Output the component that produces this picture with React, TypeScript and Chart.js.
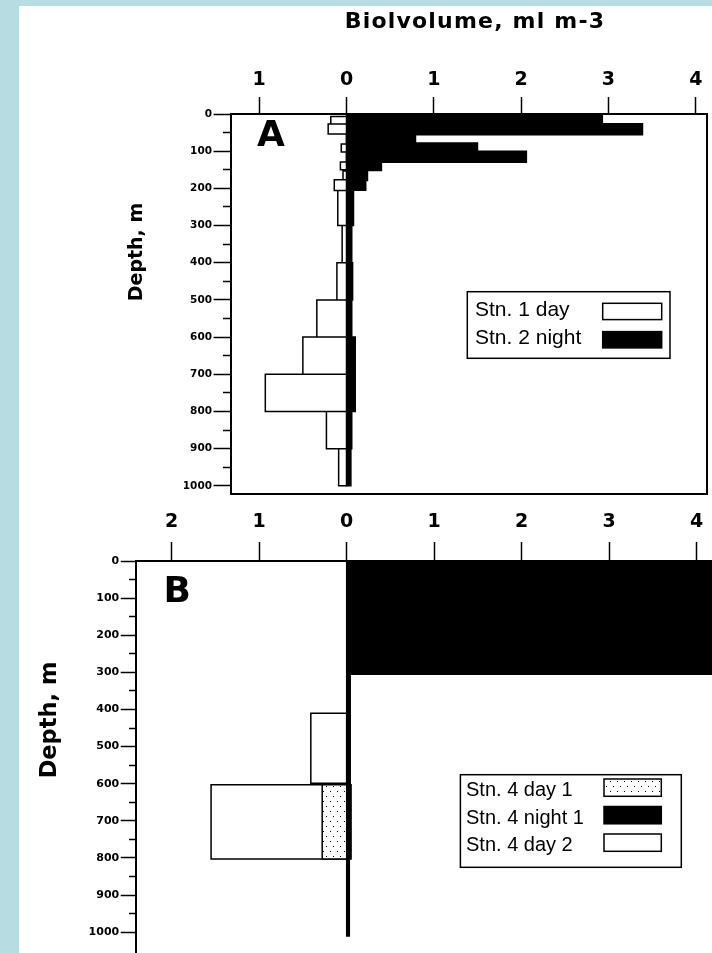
import { useEffect, useRef } from 'react';
import { Chart, registerables } from 'chart.js';

Chart.register(...registerables);

// ---------------- data: biovolume (ml m-3) per depth bin (m) ----------------
// Panel A – Stn. 1 day (drawn to the left of zero)
const A_DAY_TOP = [7, 27, 81, 129, 153, 177, 206, 300, 400, 500, 600, 700, 800, 900];
const A_DAY_BOTTOM = [27, 54, 102, 150, 177, 206, 300, 400, 500, 600, 700, 800, 900, 1000];
const A_DAY_VALUE = [0.18, 0.21, 0.06, 0.07, 0.04, 0.14, 0.1, 0.05, 0.11, 0.34, 0.5, 0.93, 0.23, 0.09];

// Panel A – Stn. 2 night (drawn to the right of zero)
const A_NIGHT_TOP = [0, 26, 56, 78, 100, 130, 152, 179, 205, 300, 400, 500, 600, 800, 900];
const A_NIGHT_BOTTOM = [26, 56, 78, 100, 130, 152, 179, 205, 300, 400, 500, 600, 800, 900, 1000];
const A_NIGHT_VALUE = [2.93, 3.39, 0.79, 1.5, 2.06, 0.4, 0.24, 0.22, 0.08, 0.06, 0.07, 0.06, 0.1, 0.06, 0.05];

// Panel B – Stn. 4 day 1 (left)
const B_DAY1_TOP = [603];
const B_DAY1_BOTTOM = [803];
const B_DAY1_VALUE = [0.28];

// Panel B – Stn. 4 night 1 (right)
const B_NIGHT1_TOP = [0, 305, 603, 803];
const B_NIGHT1_BOTTOM = [305, 603, 803, 1010];
const B_NIGHT1_VALUE = [4.6, 0.04, 0.05, 0.03];

// Panel B – Stn. 4 day 2 (left)
const B_DAY2_TOP = [410, 603];
const B_DAY2_BOTTOM = [599, 803];
const B_DAY2_VALUE = [0.41, 1.55];

const A_LABELS = ['Stn. 1 day', 'Stn. 2 night'];
const B_LABELS = ['Stn. 4 day 1', 'Stn. 4 night 1', 'Stn. 4 day 2'];

// axis ranges / tick steps
const A_X_RANGE = [-1.323, 4.129];
const B_X_RANGE = [-2.408, 4.175];
const A_DEPTH_MAX = 1022;
const B_DEPTH_MAX = 1056;
const BIOVOL_TICK_STEP = 1;
const DEPTH_TICK_STEP = 50;
const DEPTH_LABEL_STEP = 100;
const DEPTH_LAST_TICK = 1000;

const INK = '#000000';
const PAPER = '#ffffff';
const PAGE_BG = '#b7dde3';

// Outline of a depth profile: one rectangle per bin, from zero to the value.
function outline(tops: number[], bottoms: number[], values: number[], side: number) {
  const pts: { x: number; y: number }[] = [];
  tops.forEach((t, i) => {
    const b = bottoms[i];
    const v = side * values[i];
    pts.push({ x: 0, y: t }, { x: v, y: t }, { x: v, y: b }, { x: 0, y: b }, { x: 0, y: t });
  });
  return pts;
}

function makeDotPattern(): any {
  const c = document.createElement('canvas');
  c.width = 7;
  c.height = 10;
  const g = c.getContext('2d');
  if (!g) return '#dddddd';
  g.fillStyle = PAPER;
  g.fillRect(0, 0, 7, 10);
  g.fillStyle = INK;
  g.fillRect(1, 1, 1, 1);
  g.fillRect(4, 6, 1, 1);
  return g.createPattern(c, 'repeat') || '#dddddd';
}

function series(label: string, tops: number[], bottoms: number[], values: number[], side: number, fill: any) {
  return {
    label,
    data: outline(tops, bottoms, values, side),
    showLine: true,
    fill: 'shape',
    backgroundColor: fill,
    borderColor: INK,
    borderWidth: 1.5,
    borderJoinStyle: 'miter',
    borderCapStyle: 'butt',
    tension: 0,
    pointRadius: 0,
    pointHoverRadius: 0,
    pointHitRadius: 0,
  };
}

function decor(cfg: any) {
  return {
    id: 'decor',
    afterDraw(chart: any) {
      const ctx = chart.ctx as CanvasRenderingContext2D;
      const area = chart.chartArea;
      ctx.save();
      ctx.strokeStyle = INK;
      if (cfg.frame) {
        ctx.lineWidth = 2;
        ctx.beginPath();
        ctx.moveTo(area.right, area.top);
        ctx.lineTo(area.right, area.bottom);
        ctx.lineTo(area.left, area.bottom);
        ctx.stroke();
      }
      for (const t of cfg.texts) {
        ctx.save();
        ctx.fillStyle = INK;
        ctx.font = `bold ${t.size}px "DejaVu Sans"`;
        (ctx as any).letterSpacing = t.spacing ? `${t.spacing}px` : '0px';
        ctx.textAlign = t.align || 'left';
        ctx.textBaseline = 'alphabetic';
        ctx.translate(t.x, t.y);
        if (t.rotate) ctx.rotate(t.rotate);
        ctx.fillText(t.text, 0, 0);
        ctx.restore();
      }
      const lg = cfg.legend;
      if (lg) {
        ctx.lineWidth = 1.5;
        ctx.fillStyle = PAPER;
        ctx.fillRect(lg.x, lg.y, lg.w, lg.h);
        ctx.strokeRect(lg.x, lg.y, lg.w, lg.h);
        ctx.font = `${lg.size}px "Liberation Sans"`;
        ctx.textAlign = 'left';
        ctx.textBaseline = 'alphabetic';
        chart.data.datasets.forEach((ds: any, i: number) => {
          const base = lg.baseline + i * lg.step;
          ctx.fillStyle = INK;
          ctx.fillText(ds.label, lg.textX, base);
          ctx.fillStyle = ds.backgroundColor;
          ctx.fillRect(lg.swatchX, base + lg.swatchTop, lg.swatchW, lg.swatchH);
          ctx.strokeRect(lg.swatchX, base + lg.swatchTop, lg.swatchW, lg.swatchH);
        });
      }
      ctx.restore();
    },
  };
}

const boldFont = (size: number) => ({ family: '"DejaVu Sans"', weight: 'bold' as const, size, lineHeight: 1.2 });

function makeConfig(p: any): any {
  const minorGap = p.depthTick - 1 - p.minorTick;
  return {
    type: 'scatter',
    data: { datasets: p.datasets },
    options: {
      animation: false,
      responsive: false,
      devicePixelRatio: 1,
      events: [],
      layout: { padding: p.padding },
      plugins: { legend: { display: false }, tooltip: { enabled: false }, title: { display: false } },
      scales: {
        x: {
          type: 'linear',
          position: 'top',
          min: p.xRange[0],
          max: p.xRange[1],
          afterFit: (s: any) => {
            s.height = p.xAxisHeight;
            s.paddingLeft = 0;
            s.paddingRight = 0;
          },
          ticks: {
            stepSize: BIOVOL_TICK_STEP,
            includeBounds: false,
            autoSkip: false,
            maxRotation: 0,
            padding: p.xLabelPad,
            color: INK,
            font: boldFont(19),
            callback: (v: any) => String(Math.abs(Number(v))),
          },
          grid: { drawOnChartArea: false, drawTicks: true, tickLength: p.xTick, tickColor: INK, tickWidth: 1.5 },
          border: { display: true, color: INK, width: 2 },
        },
        y: {
          type: 'linear',
          position: 'left',
          reverse: true,
          min: 0,
          max: p.depthMax,
          afterFit: (s: any) => {
            s.width = p.yAxisWidth;
            s.paddingTop = 0;
            s.paddingBottom = 0;
          },
          afterBuildTicks: (s: any) => {
            s.ticks = s.ticks.filter((t: any) => t.value <= DEPTH_LAST_TICK);
          },
          ticks: {
            stepSize: DEPTH_TICK_STEP,
            includeBounds: false,
            autoSkip: false,
            padding: 1.5,
            color: INK,
            font: boldFont(p.yFont),
            callback: (v: any) => (Number(v) % DEPTH_LABEL_STEP === 0 ? String(v) : ''),
          },
          grid: {
            drawOnChartArea: false,
            drawTicks: true,
            tickLength: p.depthTick,
            tickColor: INK,
            tickWidth: 1.5,
            tickBorderDash: (c: any) =>
              c.tick && c.tick.value % DEPTH_LABEL_STEP !== 0 ? [0, minorGap, p.minorTick, 100] : [],
          },
          border: { display: true, color: INK, width: 2 },
        },
      },
    },
    plugins: [decor(p.decor)],
  };
}

export default function App() {
  const aRef = useRef<HTMLCanvasElement>(null);
  const bRef = useRef<HTMLCanvasElement>(null);

  useEffect(() => {
    const dots = makeDotPattern();

    const chartA = new Chart(
      aRef.current as HTMLCanvasElement,
      makeConfig({
        datasets: [
          series(A_LABELS[0], A_DAY_TOP, A_DAY_BOTTOM, A_DAY_VALUE, -1, PAPER),
          series(A_LABELS[1], A_NIGHT_TOP, A_NIGHT_BOTTOM, A_NIGHT_VALUE, 1, INK),
        ],
        padding: { left: 0, top: 0, right: 5, bottom: 459 },
        xRange: A_X_RANGE,
        xAxisHeight: 114,
        yAxisWidth: 231,
        depthMax: A_DEPTH_MAX,
        xTick: 17,
        xLabelPad: 6,
        depthTick: 17.5,
        minorTick: 7,
        yFont: 10.5,
        decor: {
          frame: true,
          texts: [
            { text: 'Biolvolume, ml m-3', x: 475, y: 27.5, size: 22, spacing: 1.2, align: 'center' },
            { text: 'A', x: 257, y: 145.7, size: 36, align: 'left' },
            { text: 'Depth, m', x: 142, y: 252, size: 19, align: 'center', rotate: -Math.PI / 2 },
          ],
          legend: {
            x: 467.3, y: 291.7, w: 202.7, h: 66.6,
            textX: 475, baseline: 316, step: 28.3, size: 21,
            swatchX: 602.7, swatchW: 59, swatchTop: -12.7, swatchH: 16.3,
          },
        },
      })
    );

    const chartB = new Chart(
      bRef.current as HTMLCanvasElement,
      makeConfig({
        datasets: [
          series(B_LABELS[0], B_DAY1_TOP, B_DAY1_BOTTOM, B_DAY1_VALUE, -1, dots),
          series(B_LABELS[1], B_NIGHT1_TOP, B_NIGHT1_BOTTOM, B_NIGHT1_VALUE, 1, INK),
          series(B_LABELS[2], B_DAY2_TOP, B_DAY2_BOTTOM, B_DAY2_VALUE, -1, PAPER),
        ],
        padding: { left: 0, top: 0, right: 0, bottom: 0 },
        xRange: B_X_RANGE,
        xAxisHeight: 561,
        yAxisWidth: 136,
        depthMax: B_DEPTH_MAX,
        xTick: 19,
        xLabelPad: 8.3,
        depthTick: 15.3,
        minorTick: 6,
        yFont: 11,
        decor: {
          frame: false,
          texts: [
            { text: 'B', x: 163.5, y: 601.7, size: 36, align: 'left' },
            { text: 'Depth, m', x: 56.4, y: 720, size: 22.5, align: 'center', rotate: -Math.PI / 2 },
          ],
          legend: {
            x: 460.4, y: 774.7, w: 220.9, h: 92.6,
            textX: 466, baseline: 796, step: 27.5, size: 20,
            swatchX: 604, swatchW: 57.3, swatchTop: -17, swatchH: 17.3,
          },
        },
      })
    );

    return () => {
      chartA.destroy();
      chartB.destroy();
    };
  }, []);

  return (
    <div
      style={{
        position: 'absolute',
        left: 0,
        top: 0,
        width: 712,
        height: 953,
        background: PAGE_BG,
        overflow: 'hidden',
      }}
    >
      <div style={{ position: 'absolute', left: 19, top: 6, right: 0, bottom: 0, background: PAPER }} />
      <canvas ref={aRef} width={712} height={953} style={{ position: 'absolute', left: 0, top: 0 }} />
      <canvas ref={bRef} width={712} height={953} style={{ position: 'absolute', left: 0, top: 0 }} />
    </div>
  );
}
